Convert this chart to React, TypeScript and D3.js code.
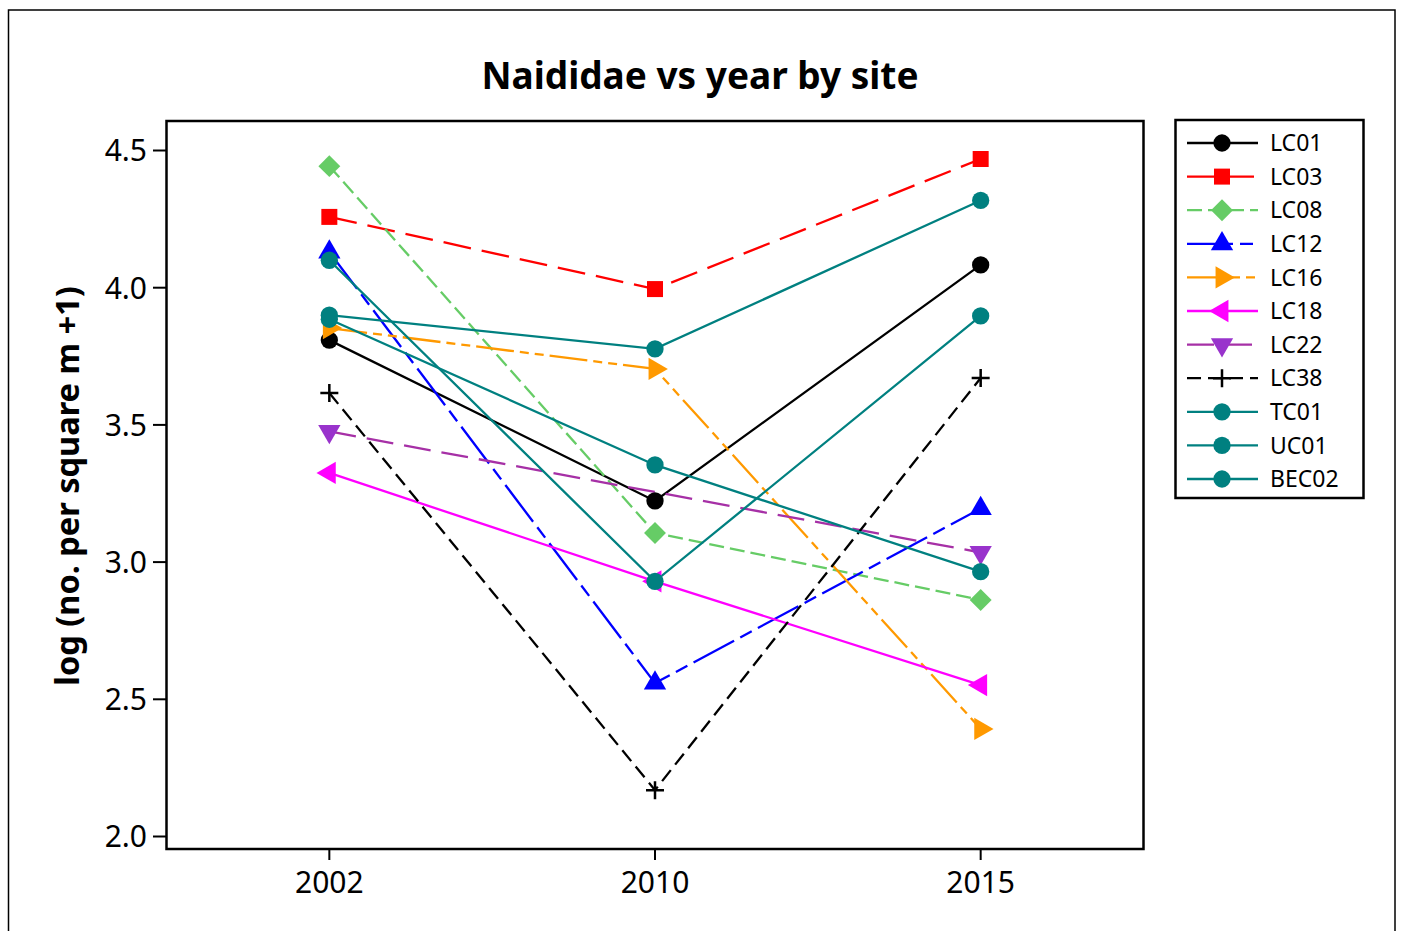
import React from "react";
import * as d3 from "d3";

const years = ["2002", "2010", "2015"];
const yTicks = [2.0, 2.5, 3.0, 3.5, 4.0, 4.5];

const siteNames = ["LC01", "LC03", "LC08", "LC12", "LC16", "LC18", "LC22", "LC38", "TC01", "UC01", "BEC02"];

const lc01 = [3.809, 3.223, 4.083];
const lc03 = [4.258, 3.995, 4.469];
const lc08 = [4.443, 3.106, 2.862];
const lc12 = [4.13, 2.559, 3.195];
const lc16 = [3.853, 3.704, 2.392];
const lc18 = [3.325, 2.93, 2.552];
const lc22: (number | null)[] = [3.476, null, 3.035];
const lc38 = [3.616, 2.169, 3.671];
const tc01 = [3.9, 3.777, 4.318];
const uc01 = [4.1, 2.93, 3.897];
const bec02 = [3.885, 3.354, 2.965];

const seriesValues = [lc01, lc03, lc08, lc12, lc16, lc18, lc22, lc38, tc01, uc01, bec02];

type Style = { line: string; fill: string; dash: string; shape: string };
const styles: Style[] = [
  { line: "#000000", fill: "#000000", dash: "", shape: "circle" },
  { line: "#FF0000", fill: "#FF0000", dash: "28,11", shape: "square" },
  { line: "#66CC66", fill: "#66CC66", dash: "15,6", shape: "diamond" },
  { line: "#0000FF", fill: "#0000FF", dash: "46,7,13,7", shape: "up" },
  { line: "#FF9900", fill: "#FF9900", dash: "38,6,9,6,9,6", shape: "right" },
  { line: "#FF00FF", fill: "#FF00FF", dash: "", shape: "left" },
  { line: "#A630A6", fill: "#9933CC", dash: "27,11", shape: "down" },
  { line: "#000000", fill: "#000000", dash: "14,7", shape: "plus" },
  { line: "#008080", fill: "#008080", dash: "", shape: "circle" },
  { line: "#008080", fill: "#008080", dash: "", shape: "circle" },
  { line: "#008080", fill: "#008080", dash: "", shape: "circle" },
];

const FONT = "'Noto Sans', 'Open Sans', sans-serif";

function markerPath(shape: string): { d: string; rot: number; stroke?: boolean } {
  switch (shape) {
    case "circle":
      return { d: d3.symbol().type(d3.symbolCircle).size(235)() as string, rot: 0 };
    case "square":
      return { d: d3.symbol().type(d3.symbolSquare).size(256)() as string, rot: 0 };
    case "diamond":
      return { d: d3.symbol().type(d3.symbolSquare).size(240)() as string, rot: 45 };
    case "up":
      return { d: d3.symbol().type(d3.symbolTriangle).size(215)() as string, rot: 0 };
    case "right":
      return { d: d3.symbol().type(d3.symbolTriangle).size(215)() as string, rot: 90 };
    case "down":
      return { d: d3.symbol().type(d3.symbolTriangle).size(215)() as string, rot: 180 };
    case "left":
      return { d: d3.symbol().type(d3.symbolTriangle).size(215)() as string, rot: -90 };
    default:
      return { d: "M-9,0H9M0,-9V9", rot: 0, stroke: true };
  }
}

function Marker({ x, y, st }: { x: number; y: number; st: Style }) {
  const m = markerPath(st.shape);
  if (m.stroke) {
    return (
      <path d={m.d} transform={`translate(${x},${y})`} stroke={st.fill} strokeWidth={2.5} fill="none" />
    );
  }
  return <path d={m.d} transform={`translate(${x},${y}) rotate(${m.rot})`} fill={st.fill} stroke="none" />;
}

export default function App() {
  const W = 1401;
  const H = 931;
  const plot = { left: 166.5, right: 1143.5, top: 121, bottom: 849 };

  const x = d3.scalePoint<string>().domain(years).range([plot.left, plot.right]).padding(0.5);
  const y = d3.scaleLinear().domain([2, 4.5]).range([836.5, 150.5]);

  const line = d3
    .line<[string, number]>()
    .x((d) => x(d[0]) as number)
    .y((d) => y(d[1]));

  const legend = { left: 1175.5, top: 120, right: 1363.5, bottom: 498 };
  const rowY0 = 143;
  const rowStep = 33.6;

  return (
    <svg
      width={W}
      height={H}
      style={{ position: "absolute", left: 0, top: 0, background: "#fff" }}
      fontFamily={FONT}
    >
      <rect x={0} y={0} width={W} height={H} fill="#fff" />
      <rect x={8.5} y={10} width={1386.5} height={940} fill="none" stroke="#000" strokeWidth={1.5} />

      <text x={700} y={89} textAnchor="middle" fontSize={37} fontWeight="bold" fill="#000">
        Naididae vs year by site
      </text>

      <text
        transform={`translate(79,486) rotate(-90)`}
        textAnchor="middle"
        fontSize={32.5}
        fontWeight="bold"
        fill="#000"
      >
        log (no. per square m +1)
      </text>

      {/* y ticks */}
      {yTicks.map((t) => (
        <g key={t}>
          <line x1={153} x2={plot.left} y1={y(t)} y2={y(t)} stroke="#000" strokeWidth={2} />
          <text x={147} y={y(t)} dy="0.36em" textAnchor="end" fontSize={30} fill="#000">
            {d3.format(".1f")(t)}
          </text>
        </g>
      ))}

      {/* x ticks */}
      {years.map((yr) => (
        <g key={yr}>
          <line x1={x(yr)} x2={x(yr)} y1={plot.bottom} y2={plot.bottom + 11} stroke="#000" strokeWidth={2} />
          <text x={x(yr)} y={893} textAnchor="middle" fontSize={30} fill="#000">
            {yr}
          </text>
        </g>
      ))}

      {/* series lines */}
      {seriesValues.map((vals, i) => {
        const pts = years
          .map((yr, j) => [yr, vals[j]] as [string, number | null])
          .filter((p) => p[1] !== null) as [string, number][];
        return (
          <path
            key={"l" + i}
            d={line(pts) as string}
            fill="none"
            stroke={styles[i].line}
            strokeWidth={2.3}
            strokeDasharray={styles[i].dash || undefined}
          />
        );
      })}

      {/* markers */}
      {seriesValues.map((vals, i) => (
        <g key={"m" + i}>
          {years.map((yr, j) =>
            vals[j] === null ? null : (
              <Marker key={yr} x={x(yr) as number} y={y(vals[j] as number)} st={styles[i]} />
            )
          )}
        </g>
      ))}

      <rect
        x={plot.left}
        y={plot.top}
        width={plot.right - plot.left}
        height={plot.bottom - plot.top}
        fill="none"
        stroke="#000"
        strokeWidth={2.5}
      />

      {/* legend */}
      <rect
        x={legend.left}
        y={legend.top}
        width={legend.right - legend.left}
        height={legend.bottom - legend.top}
        fill="#fff"
        stroke="#000"
        strokeWidth={2.5}
      />
      {siteNames.map((name, i) => {
        const ry = rowY0 + i * rowStep;
        return (
          <g key={name}>
            <line
              x1={1187}
              x2={1258}
              y1={ry}
              y2={ry}
              stroke={styles[i].line}
              strokeWidth={2.3}
              strokeDasharray={styles[i].dash || undefined}
            />
            <Marker x={1222} y={ry} st={styles[i]} />
            <text x={1270} y={ry} dy="0.36em" fontSize={23} fill="#000">
              {name}
            </text>
          </g>
        );
      })}
    </svg>
  );
}
